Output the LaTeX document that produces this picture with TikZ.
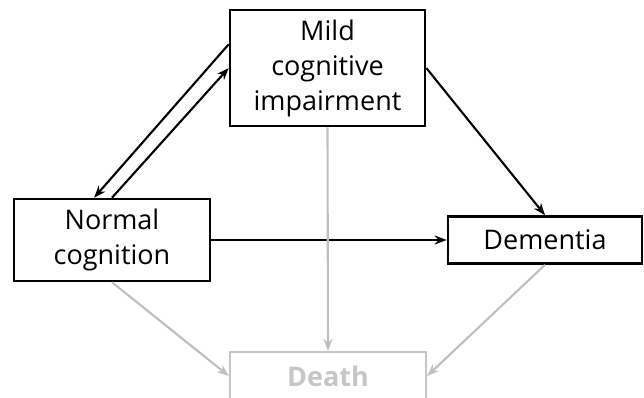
\documentclass[tikz,border=0pt]{standalone}
\usepackage{fontspec}
\setmainfont{Open Sans}
\usetikzlibrary{arrows.meta, calc, positioning}

\tikzset{
    statebox/.style={draw, line width=2.6pt, align=center, inner sep=0pt,
        font=\fontsize{27}{35}\selectfont},
    deathbox/.style={statebox, draw=gray!45, text=gray!45, line width=2.2pt,
        font=\fontsize{27}{35}\selectfont\bfseries},
    arr/.style={-{Stealth[length=12pt, width=9pt]}, line width=2.1pt},
    grayarr/.style={arr, draw=gray!50}
}

\begin{document}
\begin{tikzpicture}[x=1pt, y=-1pt]
    \useasboundingbox (0,0) rectangle (644,398);

    % --- the four states ---
    \node[statebox, minimum width=195pt, minimum height=116pt] (mci) at (327.5, 68) {Mild\\cognitive\\impairment};
    \node[statebox, minimum width=196pt, minimum height=82pt] (normal) at (112, 240) {Normal\\cognition};
    \node[statebox, minimum width=194pt, minimum height=47pt] (dementia) at (545, 240) {Dementia};
    \node[deathbox, minimum width=196pt, minimum height=48pt] (death) at (328, 376) {Death};

    % end points of the backward transition
    \coordinate (mciback) at ($(mci.north west)!0.3!(mci.south west)$);
    \coordinate (normalback) at ($(normal.north west)!0.41!(normal.north east)$);

    % --- transitions between living states ---
    \draw[arr] (mciback) -- (normalback);
    \draw[arr] (normal.north) -- (mci.west);
    \draw[arr] (mci.east) -- (dementia.north);
    \draw[arr] (normal.east) -- (dementia.west);

    % --- transitions to death ---
    \draw[grayarr] (mci.south) -- (death.north);
    \draw[grayarr] (normal.south) -- (death.west);
    \draw[grayarr] (dementia.south) -- (death.east);
\end{tikzpicture}
\end{document}
